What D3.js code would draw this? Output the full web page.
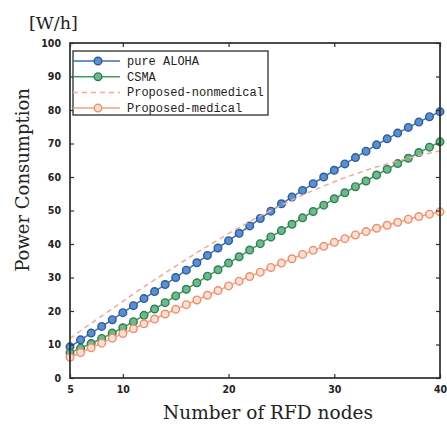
<!DOCTYPE html>
<html>
<head>
<meta charset="utf-8">
<script src="https://cdn.jsdelivr.net/npm/d3@7"></script>
<style>
  body { margin: 0; background: #fff; }
  svg { display: block; }
</style>
</head>
<body>
<div class="chart"></div>
<script>
// data
var nodes = d3.range(5, 41);
var aloha = [9.3, 11.4, 13.4, 15.4, 17.4, 19.5, 21.6, 23.7, 25.8, 27.9,
  30.0, 32.2, 34.4, 36.6, 38.8, 41.0, 43.2, 45.4, 47.6, 49.8,
  52.0, 54.0, 56.0, 58.0, 60.0, 62.0, 63.9, 65.8, 67.7, 69.6,
  71.4, 73.1, 74.8, 76.4, 78.0, 79.5];
var csma = [7.5, 8.9, 10.3, 11.8, 13.4, 15.0, 16.8, 18.7, 20.6, 22.5,
  24.5, 26.5, 28.4, 30.4, 32.3, 34.3, 36.2, 38.2, 40.1, 42.1,
  44.0, 45.9, 47.8, 49.7, 51.6, 53.5, 55.3, 57.1, 58.8, 60.6,
  62.3, 64.0, 65.6, 67.3, 68.9, 70.5];
var nonmedical = [11.8, 14.1, 16.3, 18.5, 20.7, 22.9, 25.1, 27.2, 29.3, 31.4,
  33.4, 35.4, 37.4, 39.3, 41.2, 43.1, 44.9, 46.7, 48.4, 50.0,
  51.6, 53.1, 54.6, 56.0, 57.3, 58.6, 59.8, 60.9, 62.0, 63.0,
  63.9, 64.8, 65.6, 66.4, 67.1, 67.8];
var medical = [6.2, 7.6, 9.0, 10.4, 11.9, 13.3, 14.7, 16.2, 17.6, 19.1,
  20.5, 21.9, 23.3, 24.7, 26.1, 27.5, 28.9, 30.3, 31.6, 33.0,
  34.3, 35.6, 36.9, 38.1, 39.3, 40.5, 41.6, 42.7, 43.7, 44.7,
  45.6, 46.5, 47.4, 48.2, 48.9, 49.6];
var xTicks = [5, 10, 20, 30, 40];
var yTicks = d3.range(0, 101, 10);

var series = [
  {name: "pure ALOHA", values: aloha, line: "#3b6fb6", fill: "#5a8fd2", edge: "#2b5c9e", marker: true, dash: null},
  {name: "CSMA", values: csma, line: "#3d9a60", fill: "#6fb98c", edge: "#2d8150", marker: true, dash: null},
  {name: "Proposed-nonmedical", values: nonmedical, line: "#f3a898", marker: false, dash: "5 4"},
  {name: "Proposed-medical", values: medical, line: "#f4a07f", fill: "#fde0d2", edge: "#f08d6c", marker: true, dash: null}
];

var W = 447, H = 424;
var pL = 70, pR = 440, pT = 43, pB = 378;

var x = d3.scaleLinear().domain([5, 40]).range([pL, pR]);
var y = d3.scaleLinear().domain([0, 100]).range([pB, pT]);

var svg = d3.select(".chart").append("svg")
  .attr("width", W)
  .attr("height", H);

var tickFont = "'DejaVu Sans Condensed', 'DejaVu Sans', sans-serif";
var frameCol = "#27312d";

// curves
var lineGen = d3.line()
  .x(function (d, i) { return x(nodes[i]); })
  .y(function (d) { return y(d); });

series.forEach(function (s) {
  svg.append("path")
    .datum(s.values)
    .attr("d", lineGen)
    .attr("fill", "none")
    .attr("stroke", s.line)
    .attr("stroke-width", 1.5)
    .attr("stroke-dasharray", s.dash);
  if (s.marker) {
    svg.selectAll(null)
      .data(s.values)
      .enter().append("circle")
      .attr("cx", function (d, i) { return x(nodes[i]); })
      .attr("cy", function (d) { return y(d); })
      .attr("r", 3.8)
      .attr("fill", s.fill)
      .attr("stroke", s.edge)
      .attr("stroke-width", 1.4);
  }
});

// axes, ticks inward on all four sides
function styleAxis(g) {
  g.select(".domain").remove();
  g.selectAll(".tick line").attr("stroke", frameCol).attr("stroke-width", 1.2);
  g.selectAll(".tick text")
    .attr("fill", "#222")
    .attr("font-family", tickFont)
    .attr("font-weight", "bold")
    .attr("font-size", 10.5);
}

svg.append("g")
  .attr("transform", "translate(0," + pB + ")")
  .call(d3.axisBottom(x).tickValues(xTicks).tickSizeInner(-4).tickSizeOuter(0).tickPadding(8))
  .call(styleAxis);
svg.append("g")
  .attr("transform", "translate(0," + pT + ")")
  .call(d3.axisTop(x).tickValues(xTicks).tickSizeInner(-4).tickSizeOuter(0).tickFormat(""))
  .call(styleAxis);
svg.append("g")
  .attr("transform", "translate(" + pL + ",0)")
  .call(d3.axisLeft(y).tickValues(yTicks).tickSizeInner(-4).tickSizeOuter(0).tickPadding(9))
  .call(styleAxis);
svg.append("g")
  .attr("transform", "translate(" + pR + ",0)")
  .call(d3.axisRight(y).tickValues(yTicks).tickSizeInner(-4).tickSizeOuter(0).tickFormat(""))
  .call(styleAxis);

svg.append("rect")
  .attr("x", pL)
  .attr("y", pT)
  .attr("width", pR - pL)
  .attr("height", pB - pT)
  .attr("fill", "none")
  .attr("stroke", frameCol)
  .attr("stroke-width", 1.7);

// legend
var lg = svg.append("g").attr("transform", "translate(73,51)");
lg.append("rect")
  .attr("width", 195)
  .attr("height", 64)
  .attr("fill", "#fff")
  .attr("stroke", frameCol)
  .attr("stroke-width", 1.3);

series.forEach(function (s, i) {
  var ly = 10 + i * 15.7;
  lg.append("line")
    .attr("x1", 0).attr("x2", 47)
    .attr("y1", ly).attr("y2", ly)
    .attr("stroke", s.line)
    .attr("stroke-width", 1.5)
    .attr("stroke-dasharray", s.dash);
  if (s.marker) {
    lg.append("circle")
      .attr("cx", 25).attr("cy", ly)
      .attr("r", 3.8)
      .attr("fill", s.fill)
      .attr("stroke", s.edge)
      .attr("stroke-width", 1.4);
  }
  lg.append("text")
    .attr("x", 54)
    .attr("y", ly + 4)
    .attr("font-family", "'Liberation Mono', 'DejaVu Sans Mono', monospace")
    .attr("font-size", 12)
    .attr("fill", "#222")
    .text(s.name);
});

// titles
var serif = "'DejaVu Serif', 'Liberation Serif', serif";
svg.append("text")
  .attr("x", 29)
  .attr("y", 29)
  .attr("font-family", serif)
  .attr("font-size", 17.5)
  .attr("fill", "#222")
  .text("[W/h]");

svg.append("text")
  .attr("transform", "translate(29,180) rotate(-90)")
  .attr("text-anchor", "middle")
  .attr("font-family", serif)
  .attr("font-size", 18)
  .attr("fill", "#222")
  .text("Power Consumption");

svg.append("text")
  .attr("x", 268)
  .attr("y", 419)
  .attr("text-anchor", "middle")
  .attr("font-family", serif)
  .attr("font-size", 18.5)
  .attr("fill", "#222")
  .text("Number of RFD nodes");
</script>
</body>
</html>
